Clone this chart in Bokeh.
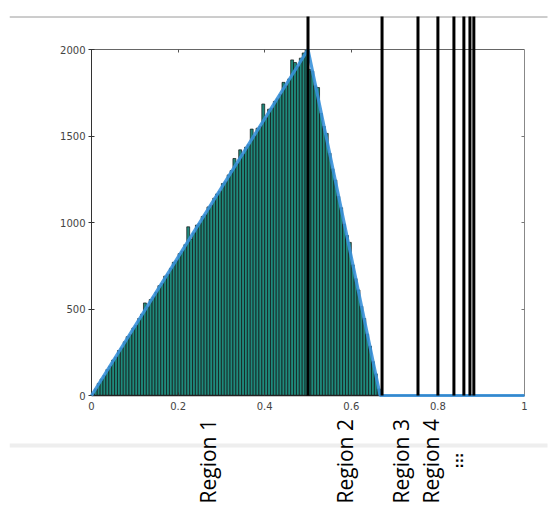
import math
from bokeh.plotting import figure
from bokeh.models import LinearAxis, FixedTicker, Range1d, NumeralTickFormatter
from bokeh.embed import file_html
from bokeh.resources import INLINE
from bokeh.core.properties import value

# ---------------- data ----------------
bin_width = 1 / 150
counts = [
    10, 38, 70, 95, 115, 150, 170, 205, 222, 260,
    275, 310, 340, 352, 390, 405, 445, 470, 535, 512,
    555, 570, 598, 635, 648, 690, 700, 735, 770, 780,
    820, 835, 872, 975, 905, 940, 985, 995, 1035, 1045,
    1090, 1100, 1140, 1165, 1180, 1225, 1235, 1275, 1300, 1370,
    1340, 1420, 1395, 1435, 1450, 1540, 1500, 1545, 1555, 1685,
    1605, 1655, 1660, 1700, 1715, 1740, 1810, 1790, 1830, 1940,
    1925, 1900, 1950, 1980, 2000, 1885, 1875, 1790, 1780, 1630,
    1555, 1515, 1400, 1310, 1245, 1150, 1085, 990, 925, 885,
    755, 675, 610, 515, 445, 355, 285, 195, 125, 38,
]
curve_x = [0, 0.5, 2 / 3, 1]
curve_y = [0, 2000, 0, 0]
boundaries = [0.5, 0.671, 0.754, 0.8, 0.837, 0.86, 0.874, 0.883]
region_labels = ["Region 1", "Region 2", "Region 3", "Region 4"]
region_label_x = [0.268, 0.586, 0.715, 0.783]
more_label = [":::"]
more_label_x = [0.848]
x_ticks = [0, 0.2, 0.4, 0.6, 0.8, 1]
y_ticks = [0, 500, 1000, 1500, 2000]
x_inner_ticks = [0.2, 0.4, 0.6, 0.8]
y_inner_ticks = [500, 1000, 1500]

# ---------------- layout (figure pixel coords) ----------------
W, H = 557, 526
X0_PX, X_SCALE = 91, 433.0          # figure x of data 0, px per unit
Y0_PX, Y_SCALE = 395, 346.0 / 2000  # figure y of data 0, px per unit
FL, FR, FT, FB = 9, 548, 15, 525    # frame edges


def px_x(fx):
    return (fx - X0_PX) / X_SCALE


def px_y(fy):
    return (Y0_PX - fy) / Y_SCALE


bar_left = [i * bin_width for i in range(len(counts))]
bar_right = [(i + 1) * bin_width for i in range(len(counts))]

p = figure(width=W, height=H,
           x_range=Range1d(px_x(FL), px_x(FR)),
           y_range=Range1d(px_y(FB), px_y(FT)),
           x_axis_type=None, y_axis_type=None,
           output_backend="svg", toolbar_location=None,
           min_border_left=FL, min_border_right=W - FR,
           min_border_top=FT, min_border_bottom=H - FB)
p.outline_line_color = None
p.background_fill_color = "white"
p.border_fill_color = "white"

# histogram bars
p.quad(left=bar_left, right=bar_right, top=counts, bottom=0,
       fill_color="#1f8a7c", line_color="#111111", line_width=0.7)

# theoretical density
p.line(curve_x, curve_y, line_color="#3a92dc", line_width=3.2,
       line_alpha=0.9, level="overlay")

# decorative horizontal lines
p.segment(x0=[px_x(9)], y0=[px_y(16.5)], x1=[px_x(547)], y1=[px_y(16.5)],
          line_color="#9a9a9a", line_width=1)
p.segment(x0=[px_x(9)], y0=[px_y(445)], x1=[px_x(547)], y1=[px_y(445)],
          line_color="#eeeeee", line_width=4)

# region boundaries
p.segment(x0=boundaries, y0=[0] * len(boundaries),
          x1=boundaries, y1=[px_y(16)] * len(boundaries),
          line_color="black", line_width=3, level="overlay")

# region labels
p.text(x=region_label_x, y=[px_y(503)] * len(region_label_x), text=region_labels,
       angle=math.pi / 2, text_align="left", text_baseline="middle",
       text_font=value("Open Sans"), text_font_size="21px", text_color="black")
p.text(x=more_label_x, y=[px_y(468)], text=more_label,
       angle=math.pi / 2, text_align="left", text_baseline="middle",
       text_font=value("DejaVu Sans"), text_font_size="13px",
       text_font_style="bold", text_color="black")

# axes
tick_font = "DejaVu Sans"
xaxis = LinearAxis(fixed_location=0, bounds=(0, 1),
                   ticker=FixedTicker(ticks=x_ticks),
                   formatter=NumeralTickFormatter(format="0.[0]"))
xaxis.axis_line_color = "#222222"
xaxis.axis_line_width = 1.5
xaxis.major_tick_in = 3
xaxis.major_tick_out = 0
xaxis.major_tick_line_color = "#333333"
xaxis.minor_tick_line_color = None
xaxis.major_label_standoff = 6
xaxis.major_label_text_font = tick_font
xaxis.major_label_text_font_size = "10px"
xaxis.major_label_text_color = "#444444"
p.add_layout(xaxis, "below")

yaxis = LinearAxis(fixed_location=0, bounds=(0, 2000),
                   ticker=FixedTicker(ticks=y_ticks))
yaxis.axis_line_color = "#333333"
yaxis.axis_line_width = 1
yaxis.major_tick_in = 3
yaxis.major_tick_out = 3
yaxis.major_tick_line_color = "#333333"
yaxis.minor_tick_line_color = None
yaxis.major_label_standoff = 3
yaxis.major_label_text_font = tick_font
yaxis.major_label_text_font_size = "10px"
yaxis.major_label_text_color = "#444444"
p.add_layout(yaxis, "left")

top_axis = LinearAxis(fixed_location=2000, bounds=(0, 1),
                      ticker=FixedTicker(ticks=x_inner_ticks),
                      major_label_overrides={t: "" for t in x_inner_ticks})
top_axis.axis_line_color = "#666666"
top_axis.major_tick_in = 3
top_axis.major_tick_out = 0
top_axis.major_tick_line_color = "#555555"
top_axis.minor_tick_line_color = None
p.add_layout(top_axis, "above")

right_axis = LinearAxis(fixed_location=1, bounds=(0, 2000),
                        ticker=FixedTicker(ticks=y_inner_ticks),
                        major_label_overrides={t: "" for t in y_inner_ticks})
right_axis.axis_line_color = "#888888"
right_axis.major_tick_in = 3
right_axis.major_tick_out = 0
right_axis.major_tick_line_color = "#777777"
right_axis.minor_tick_line_color = None
p.add_layout(right_axis, "right")

open("out.html", "w").write(file_html(p, INLINE))
